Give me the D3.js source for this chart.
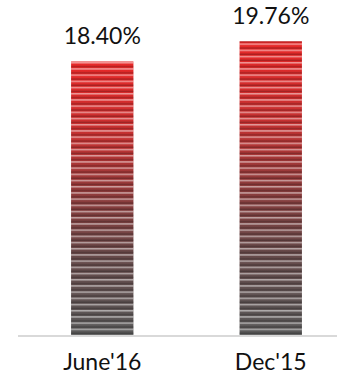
<!DOCTYPE html>
<html>
<head>
<meta charset="utf-8">
<script src="https://cdn.jsdelivr.net/npm/d3@7"></script>
<style>
  html, body { margin: 0; padding: 0; background: #fff; }
  svg { display: block; }
  text { font-family: Lato, "Open Sans", sans-serif; fill: #111; }
</style>
</head>
<body>
<svg id="chart" width="337" height="383"></svg>
<script>
// Period labels and their ratio values (%)
const categories = ["June'16", "Dec'15"];
const values = [18.40, 19.76];
const valueLabels = ["18.40%", "19.76%"];

const width = 337, height = 383;
const baseline = 335;

const svg = d3.select("#chart");

const x = d3.scaleBand()
  .domain(categories)
  .range([18, 355])
  .paddingInner(0.63)
  .paddingOuter(0.315);

const y = d3.scaleLinear()
  .domain([0, 20])
  .range([baseline, baseline - 297.3]);

const defs = svg.append("defs");

// Vertical fade from red at the top to grey at the bottom
const grad = defs.append("linearGradient")
  .attr("id", "barFade")
  .attr("x1", 0).attr("y1", 0).attr("x2", 0).attr("y2", 1);
grad.append("stop").attr("offset", "0%").attr("stop-color", "#e82828");
grad.append("stop").attr("offset", "28%").attr("stop-color", "#c43232");
grad.append("stop").attr("offset", "50%").attr("stop-color", "#8c3c3c");
grad.append("stop").attr("offset", "72%").attr("stop-color", "#664a4a");
grad.append("stop").attr("offset", "100%").attr("stop-color", "#5a5a5a");

// Horizontal ribbing laid over the bars
const pat = defs.append("pattern")
  .attr("id", "ribs")
  .attr("patternUnits", "userSpaceOnUse")
  .attr("width", 8).attr("height", 6.2);
pat.append("rect").attr("x", 0).attr("y", 0).attr("width", 8).attr("height", 1.5)
  .attr("fill", "#fff").attr("fill-opacity", 0.5);
pat.append("rect").attr("x", 0).attr("y", 4).attr("width", 8).attr("height", 1.2)
  .attr("fill", "#000").attr("fill-opacity", 0.28);

const data = categories.map((c, i) => ({ c, v: values[i], label: valueLabels[i] }));

const bars = svg.append("g");
bars.selectAll("rect.bar")
  .data(data)
  .join("rect")
  .attr("class", "bar")
  .attr("x", d => x(d.c))
  .attr("y", d => y(d.v))
  .attr("width", x.bandwidth())
  .attr("height", d => y(0) - y(d.v))
  .attr("fill", "url(#barFade)");

bars.selectAll("rect.rib")
  .data(data)
  .join("rect")
  .attr("class", "rib")
  .attr("x", d => x(d.c))
  .attr("y", d => y(d.v))
  .attr("width", x.bandwidth())
  .attr("height", d => y(0) - y(d.v))
  .attr("fill", "url(#ribs)");

// Baseline
svg.append("line")
  .attr("x1", 18).attr("x2", 337)
  .attr("y1", baseline + 1).attr("y2", baseline + 1)
  .attr("stroke", "#d9d9d9")
  .attr("stroke-width", 2);

// Value labels above bars
svg.selectAll("text.val")
  .data(data)
  .join("text")
  .attr("class", "val")
  .attr("x", d => x(d.c) + x.bandwidth() / 2)
  .attr("y", d => y(d.v) - 17)
  .attr("text-anchor", "middle")
  .attr("font-size", 23)
  .text(d => d.label);

// Category labels
svg.selectAll("text.cat")
  .data(data)
  .join("text")
  .attr("class", "cat")
  .attr("x", d => x(d.c) + x.bandwidth() / 2)
  .attr("y", 370)
  .attr("text-anchor", "middle")
  .attr("font-size", 23)
  .text(d => d.c);
</script>
</body>
</html>
